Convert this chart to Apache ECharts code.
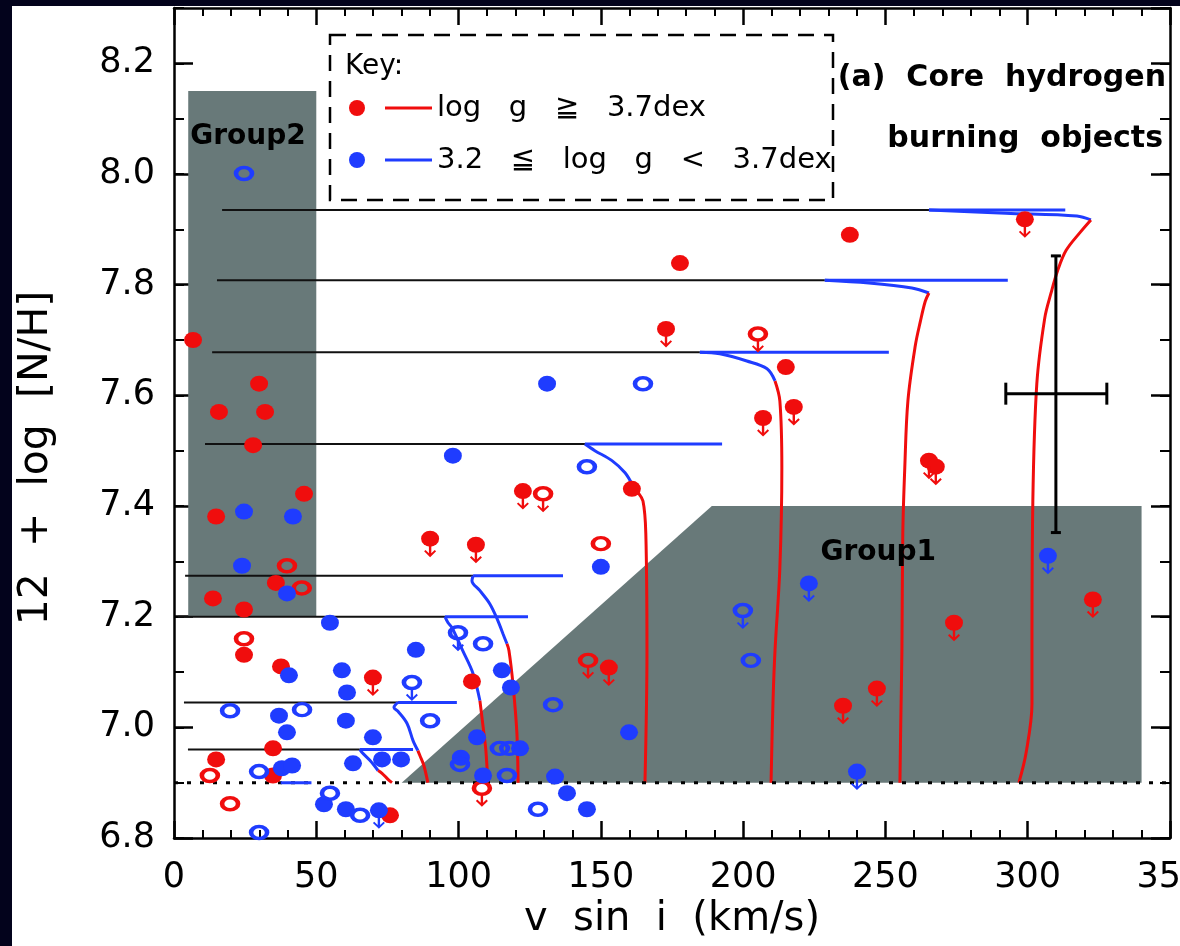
<!DOCTYPE html>
<html>
<head>
<meta charset="utf-8">
<script src="https://cdn.jsdelivr.net/npm/echarts@6/dist/echarts.min.js"></script>
<style>
  html, body { margin: 0; padding: 0; width: 1180px; height: 946px; overflow: hidden; background: #03031c; }
  #chart { position: absolute; left: 12px; top: 6px; width: 1168px; height: 940px; background: #fff; }
</style>
</head>
<body>
<div id="chart"></div>
<script>
const FONT = 'DejaVu Sans';
const RED = '#f00d0d';
const BLUE = '#1f3cff';
const GREY = '#687979';

// stars: [v sin i, 12 + log N/H]
const redFilled = [[6.7,7.700],[29.9,7.621],[15.8,7.570],[32.0,7.570],[27.8,7.510],[45.7,7.422],[14.8,7.381],
  [35.8,7.261],[13.7,7.233],[24.6,7.213],[24.6,7.131],[37.6,7.110],[34.8,6.962],[14.8,6.942],[34.8,6.913],
  [75.9,6.841],[104.7,7.083],[160.9,7.431],[215.0,7.651],[177.8,7.839],[237.5,7.890]];
const redOpen = [[39.7,7.292],[44.9,7.252],[24.6,7.160],[12.6,6.913],[19.7,6.862],[150.0,7.332]];
const redFilledLim = [[299.0,7.918],[172.9,7.720],[207.0,7.559],[217.8,7.579],[265.3,7.482],[267.7,7.471],
  [122.6,7.427],[90.0,7.341],[106.1,7.330],[322.9,7.231],[274.1,7.189],[152.8,7.108],[235.1,7.039],
  [247.0,7.070],[69.9,7.090]];
const redOpenLim = [[205.2,7.711],[129.7,7.422],[145.5,7.121],[108.2,6.890]];
const blueFilled = [[131.1,7.621],[98.0,7.491],[24.6,7.390],[41.8,7.381],[23.9,7.292],[39.7,7.242],[54.8,7.189],
  [150.0,7.290],[40.4,7.094],[59.0,7.103],[85.0,7.140],[60.8,7.063],[115.2,7.103],[118.4,7.072],[36.9,7.021],
  [60.4,7.012],[39.7,6.991],[69.9,6.982],[62.9,6.935],[73.1,6.942],[79.8,6.942],[37.9,6.926],[41.5,6.931],
  [106.5,6.982],[100.8,6.945],[108.6,6.913],[121.6,6.962],[133.9,6.911],[138.1,6.881],[145.1,6.852],
  [159.9,6.991],[52.7,6.861],[60.4,6.852]];
const blueOpen = [[24.6,8.001],[164.8,7.621],[145.1,7.471],[108.6,7.151],[19.7,7.030],[45.0,7.032],[90.0,7.012],
  [133.2,7.041],[29.9,6.920],[100.5,6.933],[114.5,6.962],[117.8,6.962],[117.0,6.913],[54.8,6.881],[65.4,6.841],
  [127.9,6.852],[29.9,6.810],[202.7,7.121]];
const blueFilledLim = [[307.1,7.310],[223.1,7.260],[240.0,6.920],[72.0,6.850]];
const blueOpenLim = [[199.9,7.211],[99.8,7.171],[83.6,7.081]];

// tracks: flat part [x start, blue start, blue end, level]
const flats = [[16.9,265.3,313.2,7.935],[15.1,228.7,293,7.808],[13.4,184.8,251.2,7.678],[10.9,144.4,192.6,7.512],
  [3.9,105.1,136.7,7.274],[1.4,95.2,124.4,7.2],[3.5,78.7,99.4,7.045],[4.9,65.3,84,6.96]];
const bends = [
  [[265.3,7.935],[292.3,7.929],[317.3,7.924],[322.2,7.917]],
  [[228.7,7.808],[244.2,7.803],[259.3,7.794],[265.3,7.785]],
  [[184.8,7.678],[191.8,7.675],[201.3,7.662],[208.4,7.648],[211.2,7.626]],
  [[144.4,7.512],[147.9,7.500],[153.9,7.482],[158.5,7.460],[161.3,7.436]],
  [[105.1,7.274],[104.7,7.265],[107.5,7.247],[111,7.223],[113.8,7.193],[115.6,7.169],[117,7.151]],
  [[95.2,7.2],[96.3,7.189],[97.7,7.180],[101.5,7.138],[105.1,7.097],[107.5,7.048]],
  [[78.7,7.045],[77.3,7.036],[78.7,7.029],[81.9,7.007],[84,6.976],[85.7,6.958]],
  [[65.3,6.96],[66,6.955],[68.9,6.940],[71.7,6.922]]
];
const falls = [
  [[322.2,7.917],[318.5,7.895],[313.5,7.862],[310.5,7.825],[308.2,7.785],[306,7.74],[303.2,7.621],[301.8,7.409],[301.5,7.139],[301.5,7.043],[299.4,6.953],[296.9,6.900]],
  [[265.3,7.785],[264,7.770],[262.3,7.734],[260.5,7.690],[257.9,7.590],[256.8,7.469],[256.1,7.350],[255.8,7.139],[255.4,7.012],[255.1,6.900]],
  [[211.2,7.626],[212.9,7.590],[213.6,7.469],[212.9,7.288],[211.2,7.139],[210.5,7.048],[209.8,6.900]],
  [[161.3,7.436],[162.7,7.427],[164.8,7.409],[165.8,7.350],[166.2,7.139],[165.5,6.900]],
  [[117,7.151],[117.7,7.139],[119.1,7.079],[120.5,6.989],[120.9,6.900]],
  [[107.5,7.048],[108.9,6.989],[109.6,6.958],[110.3,6.900]],
  [[85.7,6.958],[86.4,6.949],[87.8,6.931],[89.2,6.900]],
  [[71.7,6.922],[73.1,6.917],[75.2,6.906],[76.6,6.900]]
];
const baseLevel = 6.9;
const baseBlue = [37.5, 48.3];

const group1Poly = [[80,6.9],[189,7.4],[340,7.4],[340,6.9]];
const group2Poly = [[5,7.2],[5,8.15],[50,8.15],[50,7.2]];
const groupLabels = [['Group2',26,8.068],['Group1',247.5,7.316]];

// typical error bar
const errX = [292.3, 309.9, 327.8];
const errY = [7.352, 7.603, 7.852];

const xTicks = [0, 350, 50];
const yTicks = [6.8, 8.3, 0.2];

const ARROW = 'path://M4.8,0 L7.2,0 L7.2,9.4 L10.6,6 L12,7.4 L6,13.4 L0,7.4 L1.4,6 L4.8,9.4 Z';

let myChart = echarts.init(document.getElementById('chart'));

const series = [];

function polygon(pts, z) {
  return {
    type: 'custom', silent: true, z: z, data: [[0, 7]],
    renderItem: (params, api) => ({
      type: 'polygon',
      shape: { points: pts.map(p => api.coord(p)) },
      style: { fill: GREY }
    })
  };
}
series.push(polygon(group1Poly, 1), polygon(group2Poly, 1));

function line(data, color, width, smooth, dash) {
  return {
    type: 'line', data: data, symbol: 'none', silent: true, z: 2,
    smooth: smooth ? 0.35 : false,
    lineStyle: { color: color, width: width, type: dash || 'solid' }
  };
}
flats.forEach((f, i) => {
  series.push(line([[f[0], f[3]], [f[1], f[3]]], '#111', 2));
  series.push(line([[f[1], f[3]], [f[2], f[3]]], BLUE, 3));
  series.push(line(bends[i], BLUE, 3, true));
  series.push(line(falls[i], RED, 3, true));
});
series.push(line([[0, baseLevel], [350, baseLevel]], '#000', 3, false, [4, 9]));
series.push(line([[baseBlue[0], baseLevel], [baseBlue[1], baseLevel]], BLUE, 3));

function dots(data, color, open) {
  return {
    type: 'scatter', data: data, silent: true, z: 4,
    symbol: 'circle', symbolSize: open ? [16, 12] : [18, 16],
    itemStyle: open
      ? { color: 'rgba(0,0,0,0)', borderColor: color, borderWidth: 4, opacity: 1 }
      : { color: color, opacity: 1 }
  };
}
function arrows(data, color) {
  return {
    type: 'scatter', data: data, silent: true, z: 4,
    symbol: ARROW, symbolSize: [12, 13], symbolOffset: [0, 12],
    itemStyle: { color: color, opacity: 1 }
  };
}
series.push(dots(redFilled, RED), dots(redOpen, RED, true));
series.push(dots(redFilledLim, RED), dots(redOpenLim, RED, true), arrows(redFilledLim.concat(redOpenLim), RED));
series.push(dots(blueFilled, BLUE), dots(blueOpen, BLUE, true));
series.push(dots(blueFilledLim, BLUE), dots(blueOpenLim, BLUE, true), arrows(blueFilledLim.concat(blueOpenLim), BLUE));

// error bar and group names
series.push({
  type: 'custom', silent: true, z: 5, data: [[0, 7]],
  renderItem: (params, api) => {
    const top = api.coord([errX[1], errY[2]]), bot = api.coord([errX[1], errY[0]]);
    const lft = api.coord([errX[0], errY[1]]), rgt = api.coord([errX[2], errY[1]]);
    const st = { stroke: '#000', lineWidth: 3 };
    const seg = (x1, y1, x2, y2) => ({ type: 'line', shape: { x1, y1, x2, y2 }, style: st });
    const kids = [
      seg(top[0], top[1], bot[0], bot[1]),
      seg(top[0] - 5, top[1], top[0] + 5, top[1]),
      seg(bot[0] - 5, bot[1], bot[0] + 5, bot[1]),
      seg(lft[0], lft[1], rgt[0], rgt[1]),
      seg(lft[0], lft[1] - 11, lft[0], lft[1] + 11),
      seg(rgt[0], rgt[1] - 11, rgt[0], rgt[1] + 11)
    ];
    groupLabels.forEach(g => {
      const c = api.coord([g[1], g[2]]);
      kids.push({
        type: 'text', x: c[0], y: c[1],
        style: { text: g[0], fill: '#000', font: 'bold 28px ' + FONT,
          align: 'center', verticalAlign: 'middle', textAlign: 'center', textVerticalAlign: 'middle' }
      });
    });
    return { type: 'group', children: kids };
  }
});

function xAxis(pos, labels) {
  return {
    type: 'value', position: pos, min: xTicks[0], max: xTicks[1], interval: xTicks[2],
    name: labels ? 'v  sin  i  (km/s)' : '', nameLocation: 'middle', nameGap: 62,
    nameTextStyle: { fontFamily: FONT, fontSize: 40, color: '#000' },
    axisLine: { lineStyle: { color: '#000', width: 2.5 } },
    axisTick: { inside: true, length: 17, lineStyle: { color: '#000', width: 2.5 } },
    minorTick: { show: true, splitNumber: 5, length: 8, lineStyle: { color: '#000', width: 2 } },
    axisLabel: { show: labels, fontFamily: FONT, fontSize: 35, color: '#000', margin: 22 },
    splitLine: { show: false }
  };
}
function yAxis(pos, labels, minor) {
  return {
    type: 'value', position: pos, min: yTicks[0], max: yTicks[1], interval: minor ? 0.1 : yTicks[2],
    axisLine: { show: !minor, lineStyle: { color: '#000', width: 2.5 } },
    axisTick: { inside: true, length: minor ? 10 : 19, lineStyle: { color: '#000', width: minor ? 2 : 2.5 } },
    axisLabel: { show: labels, showMaxLabel: false, fontFamily: FONT, fontSize: 35, color: '#000', margin: 19,
      formatter: v => v.toFixed(1) },
    splitLine: { show: false }
  };
}

myChart.setOption({
  animation: false,
  backgroundColor: '#fff',
  grid: { left: 162, right: 10, top: 2, bottom: 108, containLabel: false, outerBoundsMode: 'none' },
  xAxis: [xAxis('bottom', true), xAxis('top', false)],
  yAxis: [yAxis('left', true, false), yAxis('left', false, true), yAxis('right', false, false), yAxis('right', false, true)],
  graphic: [
    { type: 'text', x: 24, y: 452, rotation: Math.PI / 2,
      style: { text: '12  +  log  [N/H]', font: '41px ' + FONT, fill: '#000',
        align: 'center', verticalAlign: 'middle', textAlign: 'center', textVerticalAlign: 'middle' } },
    { type: 'rect', shape: { x: 318, y: 29, width: 503, height: 165 },
      style: { fill: 'none', stroke: '#000', lineWidth: 2.5, lineDash: [16, 10] } },
    { type: 'text', x: 333, y: 61,
      style: { text: 'Key:', font: '28px ' + FONT, fill: '#000', verticalAlign: 'middle', textVerticalAlign: 'middle' } },
    { type: 'circle', shape: { cx: 345, cy: 102, r: 8 }, style: { fill: RED } },
    { type: 'line', shape: { x1: 373, y1: 102, x2: 420, y2: 102 }, style: { stroke: RED, lineWidth: 3 } },
    { type: 'text', x: 425, y: 102,
      style: { text: 'log   g   ≧   3.7dex', font: '29px ' + FONT, fill: '#000', verticalAlign: 'middle', textVerticalAlign: 'middle' } },
    { type: 'circle', shape: { cx: 345, cy: 154, r: 8 }, style: { fill: BLUE } },
    { type: 'line', shape: { x1: 373, y1: 154, x2: 420, y2: 154 }, style: { stroke: BLUE, lineWidth: 3 } },
    { type: 'text', x: 425, y: 154,
      style: { text: '3.2   ≦   log   g   <   3.7dex', font: '29px ' + FONT, fill: '#000', verticalAlign: 'middle', textVerticalAlign: 'middle' } },
    { type: 'text', x: 1154, y: 72,
      style: { text: '(a)  Core  hydrogen', font: 'bold 30px ' + FONT, fill: '#000',
        align: 'right', textAlign: 'right', verticalAlign: 'middle', textVerticalAlign: 'middle' } },
    { type: 'text', x: 1151, y: 133,
      style: { text: 'burning  objects', font: 'bold 30px ' + FONT, fill: '#000',
        align: 'right', textAlign: 'right', verticalAlign: 'middle', textVerticalAlign: 'middle' } }
  ],
  series: series
});
</script>
</body>
</html>
